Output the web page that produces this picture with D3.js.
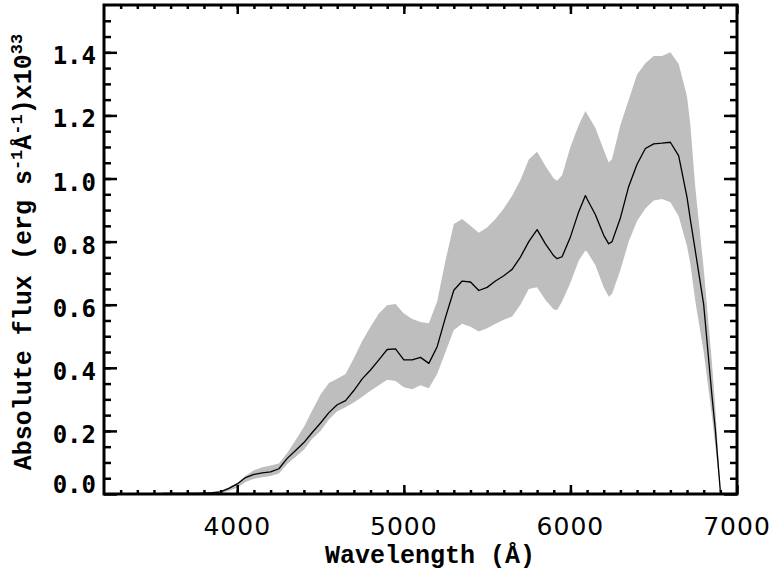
<!DOCTYPE html>
<html>
<head>
<meta charset="utf-8">
<script src="https://cdn.jsdelivr.net/npm/d3@7"></script>
<style>
  body { margin: 0; background: #fff; }
  svg { display: block; }
  .xlab { font-family: "DejaVu Sans", sans-serif; font-size: 25px; letter-spacing: 1px; }
  .ylab { font-family: "DejaVu Sans Mono", monospace; font-size: 24px; font-weight: bold; }
  .title { font-family: "Liberation Mono", monospace; font-size: 25px; font-weight: bold; }
</style>
</head>
<body>
<div id="chart"></div>
<script>
// wavelength grid (Angstrom) and flux values (x1e33)
var wavelength = [3550, 3600, 3650, 3700, 3750, 3800, 3850, 3900, 3950,
  4000, 4050, 4100, 4150, 4200, 4250, 4300, 4350, 4400, 4450,
  4500, 4550, 4600, 4650, 4700, 4750, 4800, 4850, 4900, 4950,
  5000, 5050, 5100, 5150, 5200, 5250, 5300, 5350, 5400, 5450,
  5500, 5550, 5600, 5650, 5700, 5750, 5800, 5850, 5900, 5920, 5950,
  6000, 6050, 6090, 6100, 6150, 6200, 6230, 6250, 6300, 6350, 6400, 6450,
  6500, 6550, 6600, 6650, 6700, 6720, 6750, 6800, 6850, 6870, 6900];

var fluxMean = [0.002, 0.002, 0.002, 0.002, 0.002, 0.003, 0.004, 0.007, 0.018,
  0.032, 0.052, 0.062, 0.067, 0.070, 0.080, 0.113, 0.138, 0.163, 0.195,
  0.225, 0.258, 0.283, 0.296, 0.328, 0.365, 0.393, 0.425, 0.458, 0.460,
  0.425, 0.425, 0.433, 0.414, 0.467, 0.560, 0.646, 0.675, 0.672, 0.645,
  0.655, 0.675, 0.692, 0.712, 0.751, 0.800, 0.838, 0.793, 0.755, 0.746, 0.752,
  0.815, 0.895, 0.946, 0.935, 0.885, 0.820, 0.793, 0.800, 0.875, 0.975, 1.045, 1.095,
  1.110, 1.112, 1.115, 1.072, 0.940, 0.870, 0.770, 0.600, 0.309, 0.204, 0.009];

var fluxHigh = [0.004, 0.004, 0.004, 0.004, 0.004, 0.004, 0.005, 0.010, 0.022,
  0.035, 0.058, 0.075, 0.085, 0.090, 0.097, 0.130, 0.170, 0.212, 0.265,
  0.315, 0.352, 0.365, 0.380, 0.430, 0.485, 0.530, 0.572, 0.598, 0.602,
  0.572, 0.555, 0.545, 0.541, 0.610, 0.740, 0.856, 0.872, 0.850, 0.828,
  0.845, 0.872, 0.905, 0.945, 0.995, 1.060, 1.085, 1.040, 1.000, 0.993, 1.010,
  1.100, 1.170, 1.214, 1.205, 1.160, 1.090, 1.051, 1.062, 1.170, 1.250, 1.330, 1.365,
  1.388, 1.388, 1.400, 1.363, 1.260, 1.170, 0.970, 0.715, 0.414, 0.270, 0.010];

var fluxLow = [0.000, 0.000, 0.000, 0.000, 0.000, 0.000, 0.000, 0.003, 0.010,
  0.020, 0.038, 0.048, 0.053, 0.057, 0.065, 0.095, 0.118, 0.140, 0.175,
  0.200, 0.236, 0.262, 0.275, 0.290, 0.308, 0.327, 0.345, 0.362, 0.358,
  0.338, 0.332, 0.345, 0.335, 0.380, 0.450, 0.520, 0.540, 0.530, 0.515,
  0.525, 0.540, 0.552, 0.563, 0.600, 0.650, 0.655, 0.615, 0.585, 0.583, 0.610,
  0.670, 0.740, 0.772, 0.768, 0.725, 0.655, 0.625, 0.635, 0.710, 0.800, 0.865, 0.905,
  0.930, 0.935, 0.925, 0.880, 0.785, 0.730, 0.610, 0.450, 0.246, 0.150, 0.008];

var xMajorTicks = [4000, 5000, 6000, 7000];
var yMajorTicks = [0.0, 0.2, 0.4, 0.6, 0.8, 1.0, 1.2, 1.4];

var width = 772;
var height = 578;
var margin = { top: 5, right: 35, bottom: 84, left: 104 };

var svg = d3.select("#chart")
  .append("svg")
  .attr("width", width)
  .attr("height", height);

var xScale = d3.scaleLinear()
  .domain([3200, 7000])
  .range([margin.left, width - margin.right]);

var yScale = d3.scaleLinear()
  .domain([0, 1.55])
  .range([height - margin.bottom, margin.top]);

var data = wavelength.map(function(w, i) {
  return { w: w, mean: fluxMean[i], lo: fluxLow[i], hi: fluxHigh[i] };
});

// grey spread band
var area = d3.area()
  .x(function(d) { return xScale(d.w); })
  .y0(function(d) { return yScale(d.lo); })
  .y1(function(d) { return yScale(d.hi); });

svg.append("path")
  .datum(data)
  .attr("d", area)
  .attr("fill", "#bebebe");

var line = d3.line()
  .x(function(d) { return xScale(d.w); })
  .y(function(d) { return yScale(d.mean); });

svg.append("path")
  .datum(data)
  .attr("d", line)
  .attr("fill", "none")
  .attr("stroke", "#000")
  .attr("stroke-width", 1.3)
  .attr("stroke-linejoin", "round");

// ticks, all pointing inwards like IDL
var x0 = xScale.range()[0], x1 = xScale.range()[1];
var y0 = yScale.range()[0], y1 = yScale.range()[1];

var xMinor = d3.range(3300, 7000, 100);
var yMinor = d3.range(0.05, 1.55, 0.05);

function tickGroup(axis, tx, ty) {
  var g = svg.append("g")
    .attr("transform", "translate(" + tx + "," + ty + ")")
    .call(axis);
  g.select(".domain").remove();
  g.selectAll("line").attr("stroke", "#000").attr("stroke-width", 2.5);
  return g;
}

tickGroup(d3.axisBottom(xScale).tickValues(xMinor).tickSize(-4).tickFormat(""), 0, y0);
tickGroup(d3.axisBottom(xScale).tickValues(xMajorTicks).tickSize(-9).tickFormat(""), 0, y0);
tickGroup(d3.axisTop(xScale).tickValues(xMinor).tickSize(-4).tickFormat(""), 0, y1);
tickGroup(d3.axisTop(xScale).tickValues(xMajorTicks).tickSize(-9).tickFormat(""), 0, y1);
tickGroup(d3.axisLeft(yScale).tickValues(yMinor).tickSize(-7).tickFormat(""), x0, 0);
tickGroup(d3.axisLeft(yScale).tickValues(yMajorTicks).tickSize(-13).tickFormat(""), x0, 0);
tickGroup(d3.axisRight(yScale).tickValues(yMinor).tickSize(-7).tickFormat(""), x1, 0);
tickGroup(d3.axisRight(yScale).tickValues(yMajorTicks).tickSize(-13).tickFormat(""), x1, 0);

// frame
svg.append("rect")
  .attr("x", x0)
  .attr("y", y1)
  .attr("width", x1 - x0)
  .attr("height", y0 - y1)
  .attr("fill", "none")
  .attr("stroke", "#000")
  .attr("stroke-width", 3);

// tick labels
svg.selectAll(".xlab")
  .data(xMajorTicks)
  .enter().append("text")
  .attr("class", "xlab")
  .attr("x", function(d) { return xScale(d); })
  .attr("y", 535)
  .attr("text-anchor", "middle")
  .text(function(d) { return d; });

svg.selectAll(".ylab")
  .data(yMajorTicks)
  .enter().append("text")
  .attr("class", "ylab")
  .attr("x", 96)
  .attr("y", function(d) { return Math.min(yScale(d) + 12, y0 - 1); })
  .attr("text-anchor", "end")
  .text(function(d) { return d3.format(".1f")(d); });

// axis titles
svg.append("text")
  .attr("class", "title")
  .attr("x", 430)
  .attr("y", 563)
  .attr("text-anchor", "middle")
  .text("Wavelength (Å)");

var ytitle = svg.append("text")
  .attr("class", "title")
  .attr("font-size", 26)
  .attr("transform", "translate(31,252) rotate(-90)")
  .attr("text-anchor", "middle");

ytitle.append("tspan").text("Absolute flux (erg s");
ytitle.append("tspan").attr("dy", -9).attr("font-size", 17).text("-1");
ytitle.append("tspan").attr("dy", 9).text("Å");
ytitle.append("tspan").attr("dy", -9).attr("font-size", 17).text("-1");
ytitle.append("tspan").attr("dy", 9).text(")x10");
ytitle.append("tspan").attr("dy", -9).attr("font-size", 17).text("33");
</script>
</body>
</html>
